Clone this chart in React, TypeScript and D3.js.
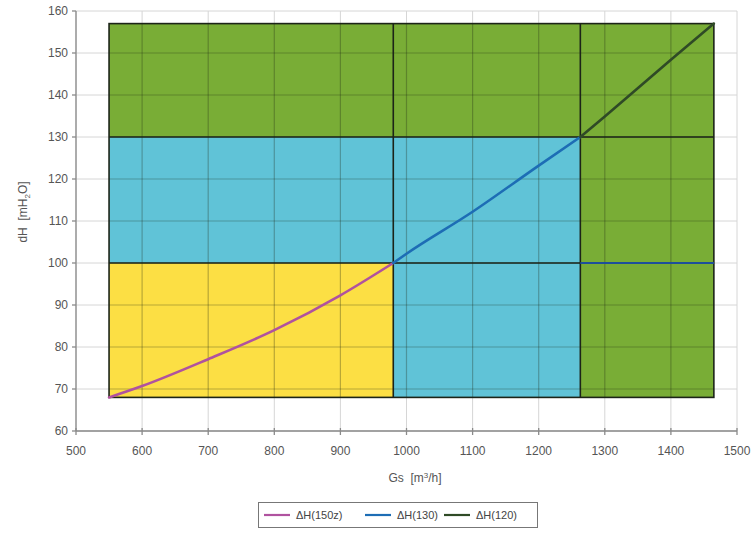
import { useEffect, useRef } from "react";
import * as d3 from "d3";

// operating zones (Gs range × dH range)
const zoneColors = { yellow: "#fcdf44", cyan: "#60c3d7", green: "#79ad36" };
const zoneX0 = [550, 550, 980, 550, 1263];
const zoneX1 = [980, 980, 1263, 1465, 1465];
const zoneY0 = [68, 100, 68, 130, 68];
const zoneY1 = [100, 130, 130, 157, 130];
const zoneFill = ["yellow", "cyan", "cyan", "green", "green"] as const;

// pump curves
const gs150 = [550, 600, 700, 800, 900, 980];
const dh150 = [68, 70.7, 77.1, 84.0, 92.3, 100];
const gs130 = [980, 1000, 1100, 1200, 1263];
const dh130 = [100, 102.2, 112.2, 123.2, 130];
const gs120 = [1263, 1300, 1400, 1465];
const dh120 = [130, 134.9, 148.4, 157];

const xTicks = [500, 600, 700, 800, 900, 1000, 1100, 1200, 1300, 1400, 1500];
const yTicks = [60, 70, 80, 90, 100, 110, 120, 130, 140, 150, 160];

const seriesNames = ["\u0394H(150z)", "\u0394H(130)", "\u0394H(120)"];
const seriesColors = ["#b0529f", "#1d6db5", "#2f4a26"];

const W = 754;
const H = 539;
const FONT = "'Liberation Sans Narrow', 'Liberation Sans', Arial, sans-serif";
const SP = "\u00a0\u00a0";

export default function App() {
  const svgRef = useRef<SVGSVGElement | null>(null);

  useEffect(() => {
    if (!svgRef.current) return;
    const svg = d3.select(svgRef.current);
    svg.selectAll("*").remove();

    const x = d3.scaleLinear().domain([500, 1500]).range([76, 737]);
    const y = d3.scaleLinear().domain([60, 160]).range([431, 11]);

    const g = svg.append("g");

    // light grid on white
    const grid = g.append("g").attr("stroke", "#d6d6d6").attr("stroke-width", 1);
    xTicks.forEach((t) =>
      grid.append("line").attr("x1", x(t)).attr("x2", x(t)).attr("y1", y(160)).attr("y2", y(60))
    );
    yTicks.forEach((t) =>
      grid.append("line").attr("x1", x(500)).attr("x2", x(1500)).attr("y1", y(t)).attr("y2", y(t))
    );

    // zones
    zoneX0.forEach((_, i) => {
      g.append("rect")
        .attr("x", x(zoneX0[i]))
        .attr("y", y(zoneY1[i]))
        .attr("width", x(zoneX1[i]) - x(zoneX0[i]))
        .attr("height", y(zoneY0[i]) - y(zoneY1[i]))
        .attr("fill", zoneColors[zoneFill[i]]);
    });

    // darker grid over zones
    svg
      .append("defs")
      .append("clipPath")
      .attr("id", "zoneClip")
      .append("rect")
      .attr("x", x(550))
      .attr("y", y(157))
      .attr("width", x(1465) - x(550))
      .attr("height", y(68) - y(157));
    const grid2 = g
      .append("g")
      .attr("clip-path", "url(#zoneClip)")
      .attr("stroke", "rgba(30,40,20,0.3)")
      .attr("stroke-width", 1.2);
    xTicks.forEach((t) =>
      grid2.append("line").attr("x1", x(t)).attr("x2", x(t)).attr("y1", y(160)).attr("y2", y(60))
    );
    yTicks.forEach((t) =>
      grid2.append("line").attr("x1", x(500)).attr("x2", x(1500)).attr("y1", y(t)).attr("y2", y(t))
    );

    // zone borders
    const border = g.append("g").attr("stroke", "#1c2418").attr("stroke-width", 1.6).attr("fill", "none");
    border
      .append("rect")
      .attr("x", x(550))
      .attr("y", y(157))
      .attr("width", x(1465) - x(550))
      .attr("height", y(68) - y(157));
    border.append("line").attr("x1", x(550)).attr("x2", x(1465)).attr("y1", y(130)).attr("y2", y(130));
    border.append("line").attr("x1", x(550)).attr("x2", x(1263)).attr("y1", y(100)).attr("y2", y(100));
    border.append("line").attr("x1", x(980)).attr("x2", x(980)).attr("y1", y(157)).attr("y2", y(68));
    border.append("line").attr("x1", x(1263)).attr("x2", x(1263)).attr("y1", y(157)).attr("y2", y(68));
    g.append("line")
      .attr("x1", x(1263))
      .attr("x2", x(1465))
      .attr("y1", y(100))
      .attr("y2", y(100))
      .attr("stroke", "#1d4f9a")
      .attr("stroke-width", 1.8);

    // curves
    const line = d3
      .line<[number, number]>()
      .x((d) => x(d[0]))
      .y((d) => y(d[1]))
      .curve(d3.curveMonotoneX);
    const series: [number[], number[]][] = [
      [gs150, dh150],
      [gs130, dh130],
      [gs120, dh120],
    ];
    series.forEach(([xs, ys], i) => {
      g.append("path")
        .datum(xs.map((v, j) => [v, ys[j]] as [number, number]))
        .attr("d", line)
        .attr("fill", "none")
        .attr("stroke", seriesColors[i])
        .attr("stroke-width", 2.6)
        .attr("stroke-linecap", "round");
    });

    // axes
    const axis = g.append("g").attr("stroke", "#8a8a8a").attr("stroke-width", 1.3);
    axis.append("line").attr("x1", x(500)).attr("x2", x(500)).attr("y1", y(160)).attr("y2", y(60));
    axis.append("line").attr("x1", x(500)).attr("x2", x(1500)).attr("y1", y(60)).attr("y2", y(60));
    yTicks.forEach((t) =>
      axis.append("line").attr("x1", x(500) - 4).attr("x2", x(500)).attr("y1", y(t)).attr("y2", y(t))
    );
    xTicks.forEach((t) =>
      axis.append("line").attr("x1", x(t)).attr("x2", x(t)).attr("y1", y(60) - 3).attr("y2", y(60) + 4)
    );

    const labels = g.append("g").attr("font-family", FONT).attr("font-size", 12).attr("fill", "#555");
    yTicks.forEach((t) =>
      labels
        .append("text")
        .attr("x", x(500) - 8)
        .attr("y", y(t) + 4)
        .attr("text-anchor", "end")
        .text(t)
    );
    xTicks.forEach((t) =>
      labels.append("text").attr("x", x(t)).attr("y", 455).attr("text-anchor", "middle").text(t)
    );

    const xTitle = labels.append("text").attr("x", 415).attr("y", 482).attr("text-anchor", "middle");
    xTitle.append("tspan").text(`Gs${SP}[m`);
    xTitle.append("tspan").attr("font-size", 8).attr("dy", -4).text("3");
    xTitle.append("tspan").attr("dy", 4).text("/h]");

    const yTitle = labels
      .append("text")
      .attr("transform", `translate(27,212) rotate(-90)`)
      .attr("text-anchor", "middle");
    yTitle.append("tspan").text(`dH${SP}[mH`);
    yTitle.append("tspan").attr("font-size", 8).attr("dy", 3).text("2");
    yTitle.append("tspan").attr("dy", -3).text("O]");

    // legend
    const legend = svg.append("g").attr("font-family", FONT).attr("font-size", 11).attr("fill", "#444");
    legend
      .append("rect")
      .attr("x", 258.5)
      .attr("y", 502.5)
      .attr("width", 279)
      .attr("height", 25)
      .attr("fill", "#fff")
      .attr("stroke", "#777")
      .attr("stroke-width", 1);
    const legX = [264, 365, 444];
    seriesNames.forEach((name, i) => {
      legend
        .append("line")
        .attr("x1", legX[i])
        .attr("x2", legX[i] + 26)
        .attr("y1", 515)
        .attr("y2", 515)
        .attr("stroke", seriesColors[i])
        .attr("stroke-width", 2.2);
      legend
        .append("text")
        .attr("x", legX[i] + 32)
        .attr("y", 519)
        .text(name);
    });
  }, []);

  return (
    <svg
      ref={svgRef}
      width={W}
      height={H}
      style={{ position: "absolute", left: 0, top: 0, background: "#fff" }}
    />
  );
}
